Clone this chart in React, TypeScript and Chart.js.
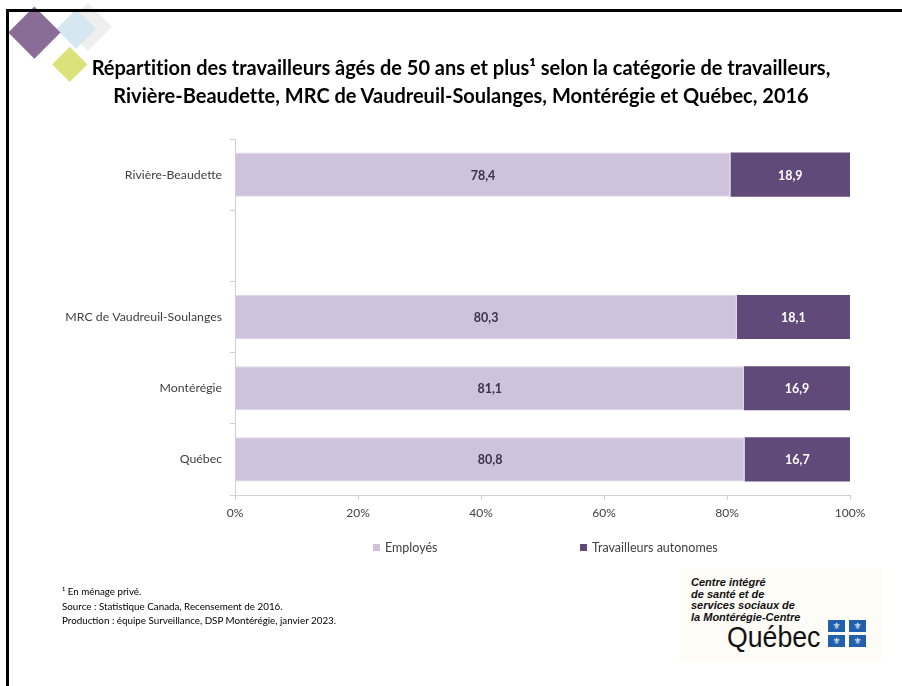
import React, { useEffect, useRef } from "react";
import { Chart, registerables } from "chart.js";

Chart.register(...registerables);

const titleLines = [
  "Répartition des travailleurs âgés de 50 ans et plus¹ selon la catégorie de travailleurs,",
  "Rivière-Beaudette, MRC de Vaudreuil-Soulanges, Montérégie et Québec, 2016",
];
const categories = ["Rivière-Beaudette", "", "MRC de Vaudreuil-Soulanges", "Montérégie", "Québec"];
const seriesNames = ["Employés", "Travailleurs autonomes"];
const employes: (number | null)[] = [78.4, null, 80.3, 81.1, 80.8];
const autonomes: (number | null)[] = [18.9, null, 18.1, 16.9, 16.7];
const xTickValues = [0, 20, 40, 60, 80, 100];
const footnotes = [
  "¹ En ménage privé.",
  "Source : Statistique Canada, Recensement de 2016.",
  "Production : équipe Surveillance, DSP Montérégie, janvier 2023.",
];
const logoLines = ["Centre intégré", "de santé et de", "services sociaux de", "la Montérégie-Centre"];

const COLORS = ["#cfc2dc", "#5f4a7a"];
const LABEL_COLORS = ["#3b3148", "#ffffff"];
const FONT = "Lato, 'Open Sans', sans-serif";

const fmt = (v: number) => v.toFixed(1).replace(".", ",");

function pctOf(a: (number | null)[], b: (number | null)[]) {
  return a.map((v, i) => {
    const w = b[i];
    if (v == null || w == null) return null;
    return (v / (v + w)) * 100;
  });
}

const rawSeries = [employes, autonomes];

const valueLabels = {
  id: "valueLabels",
  afterDatasetsDraw(chart: any) {
    const ctx = chart.ctx;
    ctx.save();
    ctx.font = `bold 12.5px ${FONT}`;
    ctx.textAlign = "center";
    ctx.textBaseline = "middle";
    chart.data.datasets.forEach((_ds: any, di: number) => {
      const meta = chart.getDatasetMeta(di);
      meta.data.forEach((el: any, i: number) => {
        const raw = rawSeries[di][i];
        if (raw == null) return;
        const p = el.getProps(["x", "y", "base"], true);
        ctx.fillStyle = LABEL_COLORS[di];
        ctx.fillText(fmt(raw), (p.x + p.base) / 2, p.y + 1);
      });
    });
    ctx.restore();
  },
};

export default function App() {
  const ref = useRef<HTMLCanvasElement>(null);

  useEffect(() => {
    if (!ref.current) return;
    const chart = new Chart(ref.current, {
      type: "bar",
      data: {
        labels: categories,
        datasets: [
          {
            label: seriesNames[0],
            data: pctOf(employes, autonomes),
            backgroundColor: COLORS[0],
            borderColor: "#ddd4e7",
            borderWidth: 1,
            barPercentage: 0.62,
            categoryPercentage: 1,
          },
          {
            label: seriesNames[1],
            data: pctOf(autonomes, employes),
            backgroundColor: COLORS[1],
            borderWidth: 0,
            barPercentage: 0.62,
            categoryPercentage: 1,
          },
        ],
      },
      options: {
        indexAxis: "y",
        animation: false,
        responsive: false,
        devicePixelRatio: 1,
        layout: { padding: { left: 20, right: 52, top: 139, bottom: 161 } },
        plugins: {
          legend: { display: false },
          tooltip: { enabled: false },
          title: { display: false },
        },
        scales: {
          x: {
            stacked: true,
            min: 0,
            max: 100,
            afterBuildTicks(scale: any) {
              scale.ticks = xTickValues.map((v) => ({ value: v }));
            },
            afterFit(scale: any) {
              scale.height = 30;
            },
            grid: {
              drawOnChartArea: false,
              tickLength: 5,
              color: "#d0d0d0",
            },
            border: { color: "#d0d0d0", width: 1 },
            ticks: {
              color: "#404040",
              font: { family: FONT, size: 12 },
              padding: 6,
              callback: (v: any) => `${v}%`,
            },
          },
          y: {
            stacked: true,
            afterFit(scale: any) {
              scale.width = 215;
            },
            grid: {
              drawOnChartArea: false,
              tickLength: 5,
              color: "#d0d0d0",
              offset: true,
            },
            border: { color: "#d0d0d0", width: 1 },
            ticks: {
              color: "#404040",
              font: { family: FONT, size: 12.3 },
              padding: 8,
            },
          },
        },
      },
      plugins: [valueLabels],
    });
    return () => chart.destroy();
  }, []);

  const diamond = (cx: number, cy: number, half: number, color: string, z: number) => (
    <div
      style={{
        position: "absolute",
        left: cx - half / Math.SQRT2,
        top: cy - half / Math.SQRT2,
        width: half * Math.SQRT2,
        height: half * Math.SQRT2,
        background: color,
        transform: "rotate(45deg)",
        zIndex: z,
      }}
    />
  );

  return (
    <div style={{ position: "absolute", left: 0, top: 0, width: 902, height: 686, background: "#fff", overflow: "hidden" }}>
      <canvas ref={ref} width={902} height={686} style={{ position: "absolute", left: 0, top: 0, width: 902, height: 686 }} />
      {diamond(88, 27, 24, "#efefef", 1)}
      {diamond(76, 29, 20, "#d5e8f1", 2)}
      {diamond(34, 32, 26, "#8a6d97", 3)}
      {diamond(70, 65, 18, "#dce27a", 4)}
      <div
        style={{
          position: "absolute",
          left: 6,
          top: 9,
          right: 0,
          bottom: 0,
          borderTop: "3px solid #000",
          borderLeft: "3px solid #000",
          zIndex: 5,
        }}
      />
      {/* title */}
      <div
        style={{
          position: "absolute",
          left: 0,
          width: 922,
          top: 54,
          textAlign: "center",
          fontFamily: FONT,
          fontWeight: "bold",
          fontSize: 20,
          lineHeight: "27.5px",
          color: "#000",
          whiteSpace: "nowrap",
          fontVariantLigatures: "none",
          zIndex: 6,
        }}
      >
        {titleLines.map((l) => (
          <div key={l}>{l}</div>
        ))}
      </div>
      {/* legend */}
      {seriesNames.map((name, i) => (
        <div
          key={name}
          style={{
            position: "absolute",
            left: i === 0 ? 373 : 580,
            top: 540,
            display: "flex",
            alignItems: "center",
            fontFamily: FONT,
            fontSize: 12.5,
            color: "#404040",
            whiteSpace: "nowrap",
            zIndex: 6,
          }}
        >
          <span style={{ display: "inline-block", width: 7, height: 7, background: COLORS[i], marginRight: 5 }} />
          {name}
        </div>
      ))}
      {/* footnotes */}
      <div style={{ position: "absolute", left: 62, top: 585, fontFamily: FONT, fontSize: 9.8, color: "#000", zIndex: 6, lineHeight: "13.5px", whiteSpace: "nowrap" }}>
        <div style={{ marginBottom: 1.5 }}>{footnotes[0]}</div>
        <div>{footnotes[1]}</div>
        <div>{footnotes[2]}</div>
      </div>
      {/* logo */}
      <div style={{ position: "absolute", left: 680, top: 568, width: 202, height: 94, background: "#fdfcf7", zIndex: 6 }}>
        <div
          style={{
            position: "absolute",
            left: 11,
            top: 9,
            fontFamily: "'Liberation Sans', Arial, sans-serif",
            fontStyle: "italic",
            fontWeight: "bold",
            fontSize: 11,
            lineHeight: "11.7px",
            color: "#111",
            whiteSpace: "nowrap",
          }}
        >
          {logoLines.map((l) => (
            <div key={l}>{l}</div>
          ))}
        </div>
        <div
          style={{
            position: "absolute",
            left: 47,
            top: 53,
            fontFamily: "'Liberation Sans', Arial, sans-serif",
            fontSize: 29,
            lineHeight: "32px",
            color: "#111",
            transform: "scaleX(0.92)",
            transformOrigin: "left center",
            whiteSpace: "nowrap",
          }}
        >
          Québec
        </div>
        {[0, 1, 2, 3].map((k) => (
          <div
            key={k}
            style={{
              position: "absolute",
              left: 148 + (k % 2) * 21,
              top: 52 + Math.floor(k / 2) * 15,
              width: 17,
              height: 12,
              background: "#2160ad",
              color: "#fff",
              fontSize: 9,
              lineHeight: "12px",
              textAlign: "center",
              fontFamily: "'DejaVu Sans', sans-serif",
            }}
          >
            ⚜
          </div>
        ))}
      </div>
    </div>
  );
}
